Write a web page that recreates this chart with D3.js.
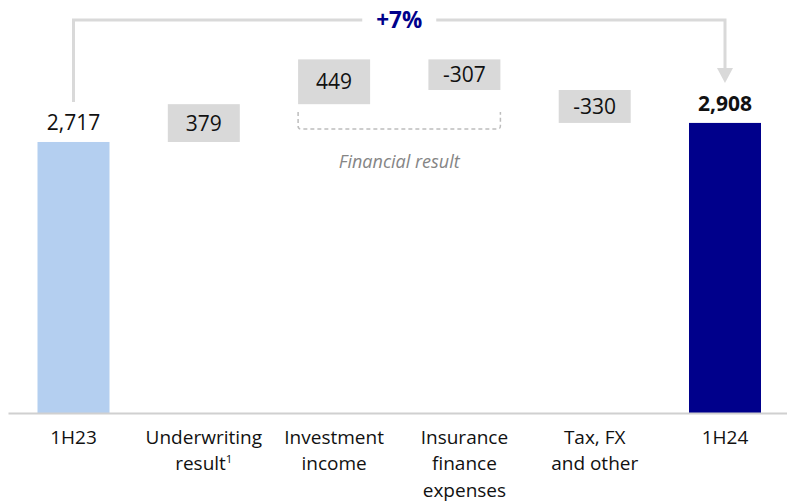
<!DOCTYPE html>
<html><head><meta charset="utf-8">
<script src="https://cdn.jsdelivr.net/npm/d3@7"></script>
<style>body{margin:0;background:#fff}svg{display:block}</style>
</head><body>
<svg id="chart" width="787" height="501"></svg>
<script>
const categories = ["1H23", "Underwriting result", "Investment income", "Insurance finance expenses", "Tax, FX and other", "1H24"];
const categoryLines = [["1H23"], ["Underwriting", "result"], ["Investment", "income"], ["Insurance", "finance", "expenses"], ["Tax, FX", "and other"], ["1H24"]];
const superscripts = ["", "1", "", "", "", ""];
const values = [2717, 379, 449, -307, -330, 2908];
const kinds = ["total", "delta", "delta", "delta", "delta", "total"];
const valueLabels = ["2,717", "379", "449", "-307", "-330", "2,908"];
const growthLabel = "+7%";
const groupLabel = "Financial result";

const svg = d3.select("#chart");
const FONT = "'Open Sans', sans-serif";

const x = d3.scaleBand().domain(categories).range([8, 790.5]).paddingInner(0.4474).paddingOuter(0.2264);
const y = d3.scaleLinear().domain([0, 4000]).range([413, 14]);

let run = 0;
const data = categories.map((c, i) => {
  let y0, y1;
  if (kinds[i] === "total") { y0 = 0; y1 = values[i]; run = values[i]; }
  else { y0 = run; y1 = run + values[i]; run = y1; }
  return {c, i, y0, y1, v: values[i], kind: kinds[i], label: valueLabels[i]};
});

const colors = {first: "#b4cff0", last: "#00008b", delta: "#d9d9d9"};

svg.selectAll("rect.bar").data(data).join("rect")
  .attr("class", "bar")
  .attr("x", d => x(d.c))
  .attr("width", x.bandwidth())
  .attr("y", d => y(Math.max(d.y0, d.y1)))
  .attr("height", d => Math.abs(y(d.y0) - y(d.y1)))
  .attr("fill", d => d.kind === "delta" ? colors.delta : (d.i === 0 ? colors.first : colors.last));

svg.selectAll("text.val").data(data).join("text")
  .attr("class", "val")
  .attr("x", d => x(d.c) + x.bandwidth() / 2)
  .attr("y", d => d.kind === "total" ? y(d.y1) - 12 : (y(d.y0) + y(d.y1)) / 2 + 7.5)
  .attr("text-anchor", "middle")
  .attr("font-family", FONT)
  .attr("font-size", 21)
  .attr("font-weight", d => d.i === data.length - 1 ? "bold" : "normal")
  .attr("fill", "#111")
  .text(d => d.label);

const axis = svg.append("g").attr("transform", "translate(0,413)")
  .call(d3.axisBottom(x).tickSize(0).tickFormat(""));
axis.select(".domain").attr("stroke", "#d0d0d0").attr("stroke-width", 2);
axis.selectAll(".tick text").remove();
axis.selectAll(".tick").each(function(c, i) {
  const t = d3.select(this).append("text")
    .attr("text-anchor", "middle")
    .attr("font-family", FONT)
    .attr("font-size", 19)
    .attr("fill", "#111");
  categoryLines[i].forEach((ln, k) => {
    t.append("tspan").attr("x", 0).attr("y", 30.5 + k * 26.5).text(ln);
    if (k === categoryLines[i].length - 1 && superscripts[i]) {
      t.append("tspan").attr("font-size", 11.5).attr("dy", -7).text(superscripts[i]);
    }
  });
});

const cx0 = x(categories[0]) + x.bandwidth() / 2;
const cx1 = x(categories[5]) + x.bandwidth() / 2;
const topY = 20;
const startY = y(values[0]) - 40;
const tipY = y(values[5]) - 40;
const midX = (cx0 + cx1) / 2;
const gap = 37;
const lineColor = "#d9d9d9";
svg.append("path")
  .attr("d", `M${cx0},${startY}V${topY}H${midX - gap}`)
  .attr("fill", "none").attr("stroke", lineColor).attr("stroke-width", 3);
svg.append("path")
  .attr("d", `M${midX + gap},${topY}H${cx1}V${tipY - 14}`)
  .attr("fill", "none").attr("stroke", lineColor).attr("stroke-width", 3);
svg.append("path")
  .attr("d", `M${cx1 - 8},${tipY - 15}L${cx1 + 8},${tipY - 15}L${cx1},${tipY}Z`)
  .attr("fill", lineColor);
svg.append("text")
  .attr("x", midX).attr("y", topY + 8)
  .attr("text-anchor", "middle")
  .attr("font-family", FONT).attr("font-size", 22.5).attr("font-weight", "bold")
  .attr("fill", "#00008b")
  .text(growthLabel);

const bx0 = x(categories[2]);
const bx1 = x(categories[3]) + x.bandwidth();
const bTop = 112, bBot = 129, r = 3;
svg.append("path")
  .attr("d", `M${bx0},${bTop}V${bBot - r}Q${bx0},${bBot} ${bx0 + r},${bBot}H${bx1 - r}Q${bx1},${bBot} ${bx1},${bBot - r}V${bTop}`)
  .attr("fill", "none").attr("stroke", "#bdbdbd").attr("stroke-width", 1.5).attr("stroke-dasharray", "4,3");
svg.append("text")
  .attr("x", (bx0 + bx1) / 2).attr("y", 168)
  .attr("text-anchor", "middle")
  .attr("font-family", FONT).attr("font-size", 18).attr("font-style", "italic")
  .attr("fill", "#858585")
  .text(groupLabel);
</script>
</body></html>
